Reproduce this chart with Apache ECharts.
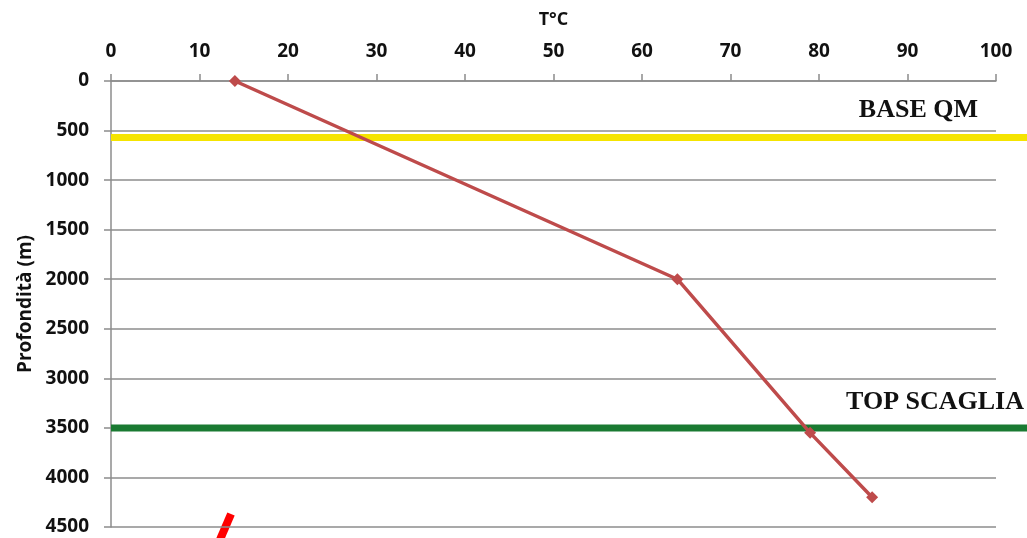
<!DOCTYPE html>
<html>
<head>
<meta charset="utf-8">
<script src="https://cdn.jsdelivr.net/npm/echarts@6/dist/echarts.min.js"></script>
<style>
html,body{margin:0;padding:0;background:#fff;}
#c{width:1027px;height:538px;}
</style>
</head>
<body>
<div id="c"></div>
<script>
// Temperature (°C) vs depth (m)
var tempValues = [14, 64, 79, 86];
var depthValues = [0, 2000, 3550, 4200];
// Horizons: depth and x extent (the lines run past the plot area to the page edge)
var baseQmDepth = 570;
var topScagliaDepth = 3500;
var horizonX = [0, 103.5];
var xTicks = [0, 10, 20, 30, 40, 50, 60, 70, 80, 90, 100];
var yTicks = [0, 500, 1000, 1500, 2000, 2500, 3000, 3500, 4000, 4500];

var chart = echarts.init(document.getElementById('c'), null, {renderer: 'canvas'});
var font = '"Open Sans", "Noto Sans", sans-serif';
var tdata = tempValues.map(function (t, i) { return [t, depthValues[i]]; });
var yMin = yTicks[0], yMax = yTicks[yTicks.length - 1];

chart.setOption({
  animation: false,
  backgroundColor: '#ffffff',
  grid: [
    {left: 111, right: 31, top: 81, bottom: 11, containLabel: false},
    {left: 111, right: 0, top: 81, bottom: 11, containLabel: false}
  ],
  xAxis: [{
    type: 'value', position: 'top', gridIndex: 0,
    min: xTicks[0], max: xTicks[xTicks.length - 1], interval: 10,
    name: 'T°C', nameLocation: 'middle', nameGap: 52,
    nameTextStyle: {fontFamily: font, fontWeight: 'bold', fontSize: 18, color: '#111'},
    axisLine: {show: true, lineStyle: {color: '#8c8c8c', width: 1.5}},
    axisTick: {show: true, length: 7, inside: false, lineStyle: {color: '#8c8c8c', width: 1.5}},
    axisLabel: {fontFamily: font, fontWeight: 'bold', fontSize: 19, color: '#111', margin: 20},
    splitLine: {show: false}
  }, {
    type: 'value', gridIndex: 1, min: horizonX[0], max: horizonX[1], show: false
  }],
  yAxis: [{
    type: 'value', inverse: true, gridIndex: 0,
    min: yMin, max: yMax, interval: 500,
    name: 'Profondità (m)', nameLocation: 'middle', nameGap: 75, nameRotate: 90,
    nameTextStyle: {fontFamily: font, fontWeight: 'bold', fontSize: 19, color: '#111'},
    axisLine: {show: true, lineStyle: {color: '#8c8c8c', width: 1.5}},
    axisTick: {show: true, length: 7, inside: false, lineStyle: {color: '#8c8c8c', width: 1.5}},
    axisLabel: {fontFamily: font, fontWeight: 'bold', fontSize: 19, color: '#111', margin: 22,
      formatter: function (v) { return String(v); }},
    splitLine: {show: true, lineStyle: {color: '#8c8c8c', width: 1.5}}
  }, {
    type: 'value', inverse: true, gridIndex: 1, min: yMin, max: yMax, show: false
  }],
  series: [
    {
      name: 'BASE QM', type: 'line', xAxisIndex: 1, yAxisIndex: 1, symbol: 'none', silent: true,
      data: horizonX.map(function (x) { return [x, baseQmDepth]; }),
      lineStyle: {color: '#F5E400', width: 7}, z: 2
    },
    {
      name: 'TOP SCAGLIA', type: 'line', xAxisIndex: 1, yAxisIndex: 1, symbol: 'none', silent: true,
      data: horizonX.map(function (x) { return [x, topScagliaDepth]; }),
      lineStyle: {color: '#1A7A32', width: 7}, z: 2
    },
    {
      name: 'T', type: 'line', xAxisIndex: 0, yAxisIndex: 0, data: tdata,
      symbol: 'diamond', symbolSize: 12,
      lineStyle: {color: '#BE4B4B', width: 3.5},
      itemStyle: {color: '#BE4B4B'}, z: 5
    }
  ],
  graphic: [
    {type: 'text', right: 49, top: 97, style: {text: 'BASE QM', font: 'bold 26px "Liberation Serif", "Times New Roman", serif', fill: '#111'}},
    {type: 'text', right: 3, top: 389, style: {text: 'TOP SCAGLIA', font: 'bold 26px "Liberation Serif", "Times New Roman", serif', fill: '#111'}},
    {type: 'line', shape: {x1: 231, y1: 514, x2: 219, y2: 542}, style: {stroke: '#FF0000', lineWidth: 8}}
  ]
});
</script>
</body>
</html>
